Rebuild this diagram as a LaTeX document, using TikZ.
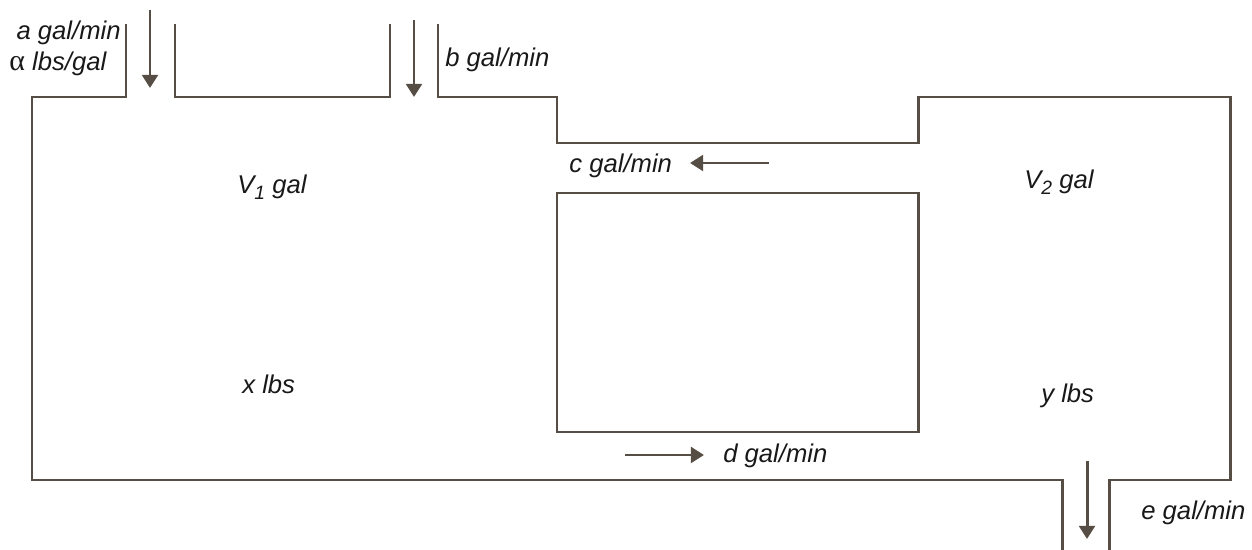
\documentclass[tikz,border=0pt]{standalone}
\usepackage{fontspec}
\setmainfont{Liberation Sans}
\newfontfamily\greekfont{Liberation Serif}
\usetikzlibrary{arrows.meta}
\definecolor{wall}{HTML}{564E44}
\begin{document}
\begin{tikzpicture}[x=0.02cm,y=-0.02cm,
  wallline/.style={draw=wall,line width=1.7pt,line join=miter},
  flow/.style={draw=wall,line width=1.7pt,-{Triangle[width=9pt,length=7.5pt]}},
  lbl/.style={font=\fontsize{14.6}{17}\selectfont\itshape,inner sep=0pt,text=black!90}]
\useasboundingbox (0,0) rectangle (1252,550);
% outer tank outline
\draw[wallline] (126,24) -- (126,97) -- (32,97) -- (32,480) -- (1062,480) -- (1062,550);
\draw[wallline] (1109,550) -- (1109,480) -- (1230,480) -- (1230,97) -- (918,97) -- (918,143)
  -- (557,143) -- (557,97) -- (438,97) -- (438,24);
\draw[wallline] (390,24) -- (390,97) -- (175,97) -- (175,24);
% inner box
\draw[wallline] (557,193) rectangle (918,432);
% flow arrows
\coordinate (a1) at (150,10); \coordinate (a2) at (150,88);
\coordinate (b1) at (414,20); \coordinate (b2) at (414,97);
\coordinate (c1) at (769,163); \coordinate (c2) at (690,163);
\coordinate (d1) at (625,455); \coordinate (d2) at (704,455);
\coordinate (e1) at (1087,461); \coordinate (e2) at (1087,539);
\draw[flow] (a1) -- (a2);
\draw[flow] (b1) -- (b2);
\draw[flow] (c1) -- (c2);
\draw[flow] (d1) -- (d2);
\draw[flow] (e1) -- (e2);
% labels
\node[lbl,anchor=east] (la) at (121,33) {a gal/min};
\node[lbl,anchor=west] (lal) at (9,64) {{\greekfont\upshape\fontsize{17}{17}\selectfont α} lbs/gal};
\node[lbl,anchor=west] (lb) at (445,60) {b gal/min};
\node[lbl,anchor=west] (lc) at (569,166) {c gal/min};
\node[lbl,anchor=west] (ld) at (723,456) {d gal/min};
\node[lbl,anchor=west] (le) at (1141,513) {e gal/min};
\node[lbl,anchor=west] (v1) at (237,187) {V\raisebox{-0.45ex}{\fontsize{11}{12}\selectfont 1} gal};
\node[lbl,anchor=west] (v2) at (1024,182) {V\raisebox{-0.45ex}{\fontsize{11}{12}\selectfont 2} gal};
\node[lbl,anchor=west] (xl) at (242,384) {x lbs};
\node[lbl,anchor=west] (yl) at (1041,396) {y lbs};
\end{tikzpicture}
\end{document}
